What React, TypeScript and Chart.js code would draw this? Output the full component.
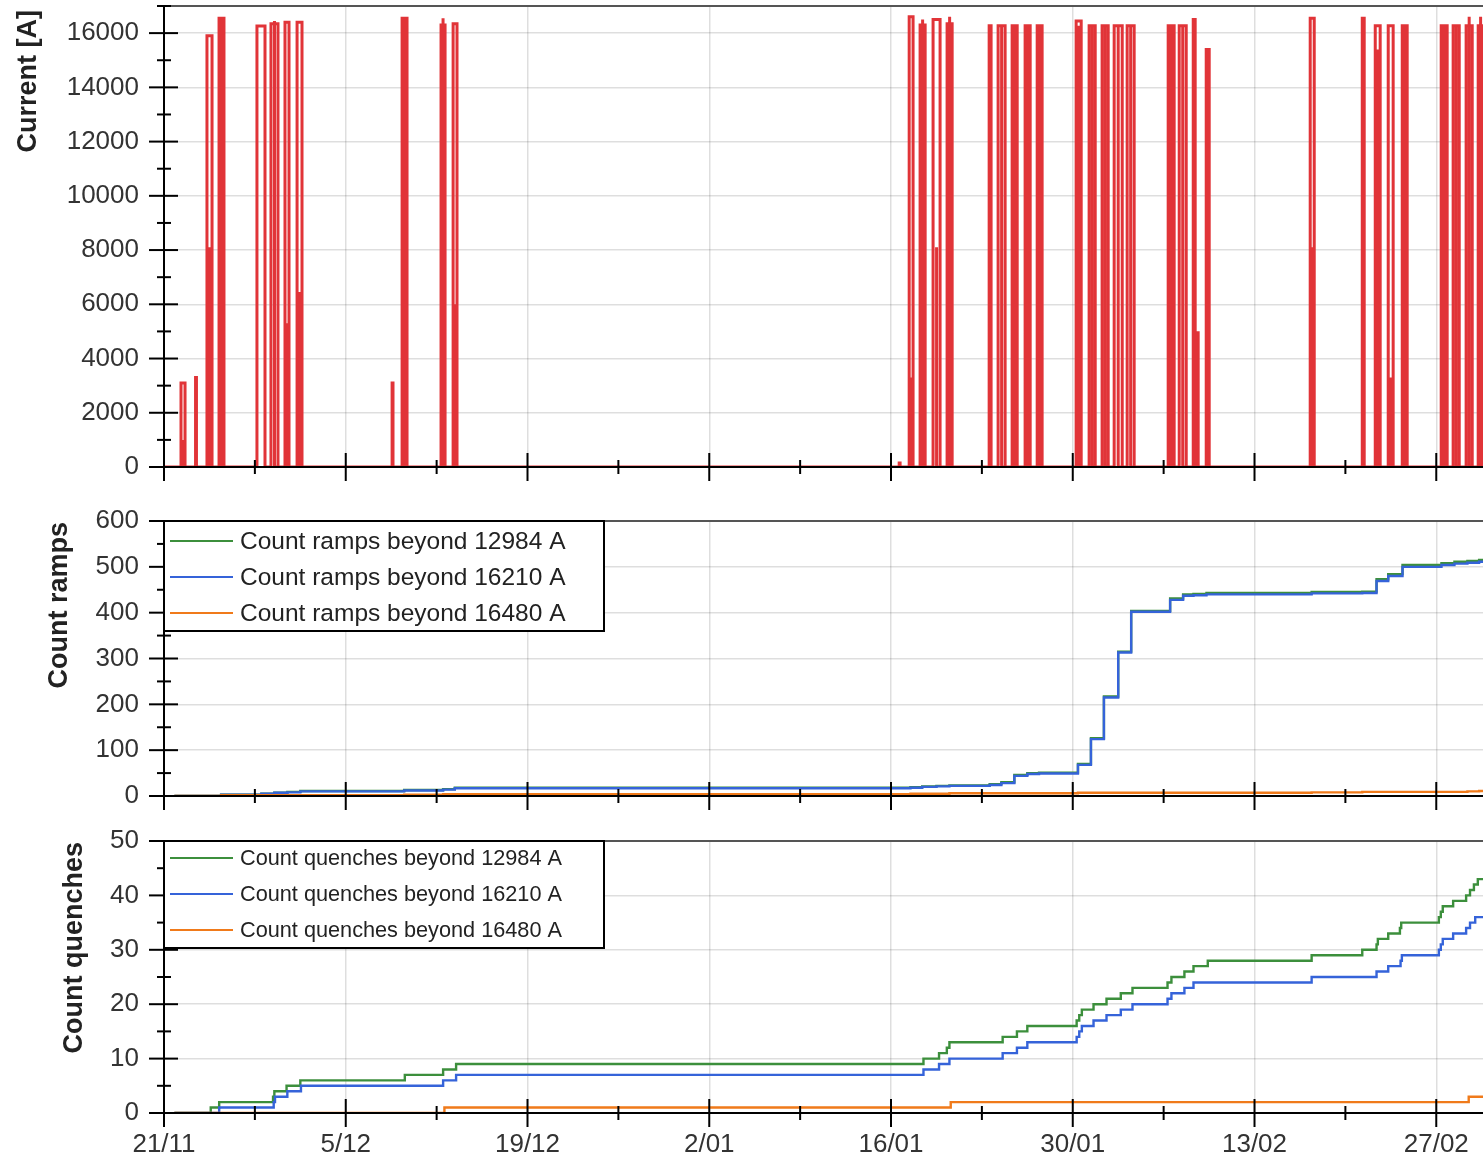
import React, { useEffect, useRef } from 'react';
import { Chart, registerables } from 'chart.js';

Chart.register(...registerables);

const FONT = "'Liberation Sans', Arial, Helvetica, sans-serif";

// ---- x axis (days since 21/11) ----
const xTickDays = [0, 14, 28, 42, 56, 70, 84, 98];
const xTickLabels = ['21/11', '5/12', '19/12', '2/01', '16/01', '30/01', '13/02', '27/02'];
const xMax = 101.6;

// ---- y tick values ----
const currentTicks = [0, 2000, 4000, 6000, 8000, 10000, 12000, 14000, 16000];
const rampTicks = [0, 100, 200, 300, 400, 500, 600];
const quenchTicks = [0, 10, 20, 30, 40, 50];

// ---- panel 1: current pulses (ramp clusters) ----
const pulseStart = [1.31, 2.43, 3.31, 4.24, 7.16, 8.24, 9.32, 10.25, 17.57, 18.34, 21.34, 22.27, 56.63, 57.4, 58.24, 59.24, 60.32, 63.56, 64.25, 65.33, 66.33, 67.26, 70.26, 71.26, 72.26, 73.19, 74.19, 77.35, 78.2, 79.28, 79.58, 80.28, 88.29, 92.3, 93.3, 94.3, 95.38, 98.38, 99.3, 100.3, 101.23];
const pulseEnd = [1.62, 2.5, 3.7, 4.62, 7.78, 8.78, 9.63, 10.63, 17.64, 18.72, 21.65, 22.57, 56.7, 57.7, 58.63, 59.78, 60.71, 63.71, 64.79, 65.72, 66.72, 67.64, 70.65, 71.73, 72.73, 73.81, 74.73, 77.81, 78.74, 79.43, 79.66, 80.51, 88.6, 92.45, 93.68, 94.68, 95.76, 98.84, 99.77, 100.77, 101.6];
const pulsePeak = [3100, 3300, 15900, 16550, 16260, 16350, 16400, 16400, 3100, 16550, 16300, 16350, 150, 16600, 16300, 16500, 16350, 16270, 16270, 16270, 16270, 16270, 16450, 16270, 16270, 16270, 16270, 16270, 16270, 16500, 4950, 15400, 16550, 16550, 16270, 16270, 16270, 16270, 16270, 16270, 16270];
const pulseInner = [1000, 0, 8100, 16550, 0, 16450, 5300, 6450, 0, 16550, 16550, 6000, 0, 3300, 16500, 8100, 16600, 0, 16270, 16270, 16270, 16270, 16270, 16270, 16270, 16270, 16270, 16270, 16270, 0, 0, 0, 8100, 9100, 15400, 3300, 16270, 16270, 16270, 16600, 16600];

// ---- panel 2: count ramps ----
const rampDays = [0.8, 4.4, 7.5, 8.5, 9.5, 10.5, 18.5, 21.5, 22.4, 57.5, 58.4, 59.5, 60.5, 63.6, 64.5, 65.5, 66.5, 67.4, 70.4, 71.4, 72.4, 73.5, 74.5, 77.5, 78.5, 79.3, 80.3, 88.4, 92.3, 93.4, 94.3, 95.4, 98.4, 99.4, 100.4, 101.3, 101.6];
const ramps12984 = [0, 3, 5, 7, 9, 11, 13, 15, 18, 19, 21, 22, 23, 26, 30, 46, 50, 51, 70, 126, 217, 315, 404, 431, 440, 441, 443, 445, 446, 473, 484, 504, 508, 511, 513, 515, 515];
const ramps16210 = [0, 3, 5, 7, 8, 10, 12, 14, 17, 18, 20, 21, 22, 24, 28, 44, 48, 49, 68, 124, 215, 313, 402, 428, 437, 438, 440, 442, 443, 469, 480, 500, 504, 507, 509, 511, 511];
const ramps16480Days = [0.8, 4.4, 18.5, 21.5, 57.5, 60.5, 70.4, 88.4, 92.3, 100.4, 101.3, 101.6];
const ramps16480 = [0, 2, 3, 4, 5, 6, 7, 8, 9, 10, 11, 11];

// ---- panel 3: count quenches ----
const q12984Days = [0.8, 3.6, 4.25, 8.4, 8.5, 9.44, 10.5, 18.55, 21.5, 22.5, 58.5, 59.7, 60.3, 60.5, 64.6, 65.7, 66.5, 70.3, 70.5, 70.7, 71.6, 72.6, 73.7, 74.6, 77.3, 77.6, 78.6, 79.3, 80.4, 88.4, 92.3, 93.4, 93.5, 94.3, 95.2, 95.3, 98.2, 98.35, 98.5, 99.3, 100.3, 100.6, 100.9, 101.2, 101.6];
const q12984 = [0, 1, 2, 3, 4, 5, 6, 7, 8, 9, 10, 11, 12, 13, 14, 15, 16, 17, 18, 19, 20, 21, 22, 23, 24, 25, 26, 27, 28, 29, 30, 31, 32, 33, 34, 35, 36, 37, 38, 39, 40, 41, 42, 43, 43];
const q16210Days = [0.8, 4.25, 8.45, 8.55, 9.5, 10.55, 21.5, 22.5, 58.5, 59.7, 60.5, 64.6, 65.7, 66.5, 70.3, 70.5, 70.7, 71.6, 72.6, 73.7, 74.6, 77.3, 77.6, 78.6, 79.3, 88.4, 93.4, 94.3, 95.25, 95.35, 98.2, 98.35, 98.5, 99.3, 100.3, 100.6, 101.0, 101.6];
const q16210 = [0, 1, 2, 3, 4, 5, 6, 7, 8, 9, 10, 11, 12, 13, 14, 15, 16, 17, 18, 19, 20, 21, 22, 23, 24, 25, 26, 27, 28, 29, 30, 31, 32, 33, 34, 35, 36, 36];
const q16480Days = [0.8, 21.6, 60.6, 100.5, 101.6];
const q16480 = [0, 1, 2, 3, 3];

const GREEN = '#3c8f3c';
const BLUE = '#3563d9';
const ORANGE = '#f07a1a';
const RED = 'rgb(225,52,56)';

function zip(days: number[], vals: number[]) {
  return days.map((d, i) => ({ x: d, y: vals[i] }));
}

function buildCurrent() {
  const pts: { x: number; y: number }[] = [{ x: 0, y: 0 }];
  for (let i = 0; i < pulseStart.length; i++) {
    const s = pulseStart[i];
    const e = pulseEnd[i];
    const p = pulsePeak[i];
    pts.push({ x: s, y: 0 }, { x: s, y: p }, { x: e, y: p }, { x: e, y: 0 });
    if (pulseInner[i] > 0) {
      const m = (s + e) / 2;
      pts.push({ x: m, y: 0 }, { x: m, y: pulseInner[i] }, { x: m, y: 0 }, { x: e, y: 0 });
    }
  }
  pts.push({ x: xMax, y: 0 });
  return pts;
}

const axisDecor = {
  id: 'axisDecor',
  afterDraw(chart: any, _args: any, opts: any) {
    const { ctx, chartArea: a, scales } = chart;
    const xs = scales.x;
    const ys = scales.y;
    const line = (x1: number, y1: number, x2: number, y2: number) => {
      ctx.beginPath();
      ctx.moveTo(x1, y1);
      ctx.lineTo(x2, y2);
      ctx.stroke();
    };
    ctx.save();
    ctx.lineCap = 'butt';
    ctx.strokeStyle = '#555';
    ctx.lineWidth = 2;
    line(a.left, a.top, a.right, a.top);
    ctx.strokeStyle = '#000';
    line(a.left, a.top - 1, a.left, a.bottom);
    line(a.left, a.bottom, a.right, a.bottom);
    for (let k = 0; k * opts.yMinor <= ys.max + 1e-9; k++) {
      const v = k * opts.yMinor;
      const py = ys.getPixelForValue(v);
      const major = k % 2 === 0;
      if (major) line(a.left - 15, py, a.left + 14, py);
      else line(a.left - 7, py, a.left + 7, py);
    }
    for (let k = 0; k * 7 <= xs.max + 1e-9; k++) {
      const px = xs.getPixelForValue(k * 7);
      const major = k % 2 === 0;
      if (major) line(px, a.bottom - 14, px, a.bottom + 14);
      else line(px, a.bottom - 7, px, a.bottom + 7);
    }
    ctx.translate(opts.titleX, opts.titleY);
    ctx.rotate(-Math.PI / 2);
    ctx.font = `bold 27px ${FONT}`;
    ctx.fillStyle = '#222';
    ctx.textAlign = 'right';
    ctx.textBaseline = 'middle';
    ctx.fillText(opts.title, 0, 0);
    ctx.restore();
  },
};

const legendBox = {
  id: 'legendBox',
  afterDraw(chart: any, _args: any, opts: any) {
    if (!opts || !opts.show) return;
    const { ctx, chartArea } = chart;
    const x0 = chartArea.left;
    const y0 = chartArea.top;
    ctx.save();
    ctx.fillStyle = '#fff';
    ctx.fillRect(x0, y0, opts.width, opts.height);
    ctx.strokeStyle = '#000';
    ctx.lineWidth = 2;
    ctx.strokeRect(x0, y0, opts.width, opts.height);
    chart.data.datasets.forEach((ds: any, i: number) => {
      const y = y0 + opts.firstRow + i * opts.rowGap;
      ctx.strokeStyle = ds.borderColor;
      ctx.lineWidth = 2;
      ctx.beginPath();
      ctx.moveTo(x0 + 6, y);
      ctx.lineTo(x0 + 69, y);
      ctx.stroke();
      ctx.fillStyle = '#222';
      ctx.font = `${opts.fontSize}px ${FONT}`;
      ctx.textAlign = 'left';
      ctx.textBaseline = 'middle';
      ctx.fillText(ds.label, x0 + 76, y + 1);
    });
    ctx.restore();
  },
};

const GRID = 'rgba(0,0,0,0.13)';

function makeConfig(p: {
  datasets: any[];
  yMax: number;
  yTicks: number[];
  yMinor: number;
  padTop: number;
  xHeight: number;
  showX: boolean;
  title: string;
  titleX: number;
  titleY: number;
  legend: any;
}) {
  return {
    type: 'line' as const,
    data: { datasets: p.datasets },
    plugins: [axisDecor, legendBox],
    options: {
      responsive: false,
      animation: false as const,
      devicePixelRatio: 1,
      events: [],
      layout: { padding: { top: p.padTop, left: 0, right: 0, bottom: 0 } },
      plugins: {
        legend: { display: false },
        tooltip: { enabled: false },
        axisDecor: { yMinor: p.yMinor, title: p.title, titleX: p.titleX, titleY: p.titleY },
        legendBox: p.legend,
      },
      scales: {
        x: {
          type: 'linear' as const,
          min: 0,
          max: xMax,
          afterBuildTicks: (s: any) => {
            s.ticks = xTickDays.map((v) => ({ value: v }));
          },
          afterFit: (s: any) => {
            s.height = p.xHeight;
            s.paddingLeft = 0;
            s.paddingRight = 0;
          },
          ticks: {
            autoSkip: false,
            maxRotation: 0,
            minRotation: 0,
            display: p.showX,
            padding: 16,
            color: '#333',
            font: { family: FONT, size: 26 },
            callback: (v: any) => xTickLabels[xTickDays.indexOf(Number(v))] ?? '',
          },
          grid: { color: GRID, lineWidth: 1.5, drawTicks: false },
          border: { display: false },
        },
        y: {
          type: 'linear' as const,
          min: 0,
          max: p.yMax,
          afterBuildTicks: (s: any) => {
            s.ticks = p.yTicks.map((v) => ({ value: v }));
          },
          afterFit: (s: any) => {
            s.width = 164;
            s.paddingTop = 0;
            s.paddingBottom = 0;
          },
          ticks: {
            autoSkip: false,
            padding: 25,
            color: '#333',
            font: { family: FONT, size: 26 },
            callback: (v: any) => String(v),
          },
          grid: { color: GRID, lineWidth: 1.5, drawTicks: false },
          border: { display: false },
        },
      },
    },
  };
}

const lineDs = (label: string, data: any[], color: string, order: number) => ({
  label,
  data,
  borderColor: color,
  backgroundColor: color,
  borderWidth: 2.4,
  pointRadius: 0,
  stepped: 'before' as const,
  fill: false,
  order,
});

export default function App() {
  const c1 = useRef<HTMLCanvasElement>(null);
  const c2 = useRef<HTMLCanvasElement>(null);
  const c3 = useRef<HTMLCanvasElement>(null);

  useEffect(() => {
    Chart.defaults.font.family = FONT;
    const charts: Chart[] = [];

    charts.push(
      new Chart(
        c1.current!,
        makeConfig({
          datasets: [
            {
              label: 'Current',
              data: buildCurrent(),
              borderColor: RED,
              borderWidth: 3,
              pointRadius: 0,
              fill: false,
            },
          ],
          yMax: 17000,
          yTicks: currentTicks,
          yMinor: 1000,
          padTop: 6,
          xHeight: 23,
          showX: false,
          title: 'Current [A]',
          titleX: 29,
          titleY: 10,
          legend: { show: false },
        }) as any
      )
    );

    charts.push(
      new Chart(
        c2.current!,
        makeConfig({
          datasets: [
            lineDs('Count ramps beyond 12984 A', zip(rampDays, ramps12984), GREEN, 3),
            lineDs('Count ramps beyond 16210 A', zip(rampDays, ramps16210), BLUE, 2),
            lineDs('Count ramps beyond 16480 A', zip(ramps16480Days, ramps16480), ORANGE, 1),
          ],
          yMax: 600,
          yTicks: rampTicks,
          yMinor: 50,
          padTop: 21,
          xHeight: 16,
          showX: false,
          title: 'Count ramps',
          titleX: 60,
          titleY: 22,
          legend: { show: true, width: 440, height: 110, firstRow: 20, rowGap: 36, fontSize: 24.5 },
        }) as any
      )
    );

    charts.push(
      new Chart(
        c3.current!,
        makeConfig({
          datasets: [
            lineDs('Count quenches beyond 12984 A', zip(q12984Days, q12984), GREEN, 3),
            lineDs('Count quenches beyond 16210 A', zip(q16210Days, q16210), BLUE, 2),
            lineDs('Count quenches beyond 16480 A', zip(q16480Days, q16480), ORANGE, 1),
          ],
          yMax: 50,
          yTicks: quenchTicks,
          yMinor: 5,
          padTop: 21,
          xHeight: 47,
          showX: true,
          title: 'Count quenches',
          titleX: 75,
          titleY: 22,
          legend: { show: true, width: 440, height: 107, firstRow: 17, rowGap: 36, fontSize: 21.7 },
        }) as any
      )
    );

    return () => charts.forEach((c) => c.destroy());
  }, []);

  const cs = (top: number, h: number): React.CSSProperties => ({
    position: 'absolute',
    left: 0,
    top,
    width: 1483,
    height: h,
    display: 'block',
  });

  return (
    <div
      style={{
        position: 'absolute',
        left: 0,
        top: 0,
        width: 1483,
        height: 1160,
        overflow: 'hidden',
        background: '#fff',
      }}
    >
      <canvas ref={c1} width={1483} height={490} style={cs(0, 490)} />
      <canvas ref={c2} width={1483} height={312} style={cs(500, 312)} />
      <canvas ref={c3} width={1483} height={340} style={cs(820, 340)} />
    </div>
  );
}
